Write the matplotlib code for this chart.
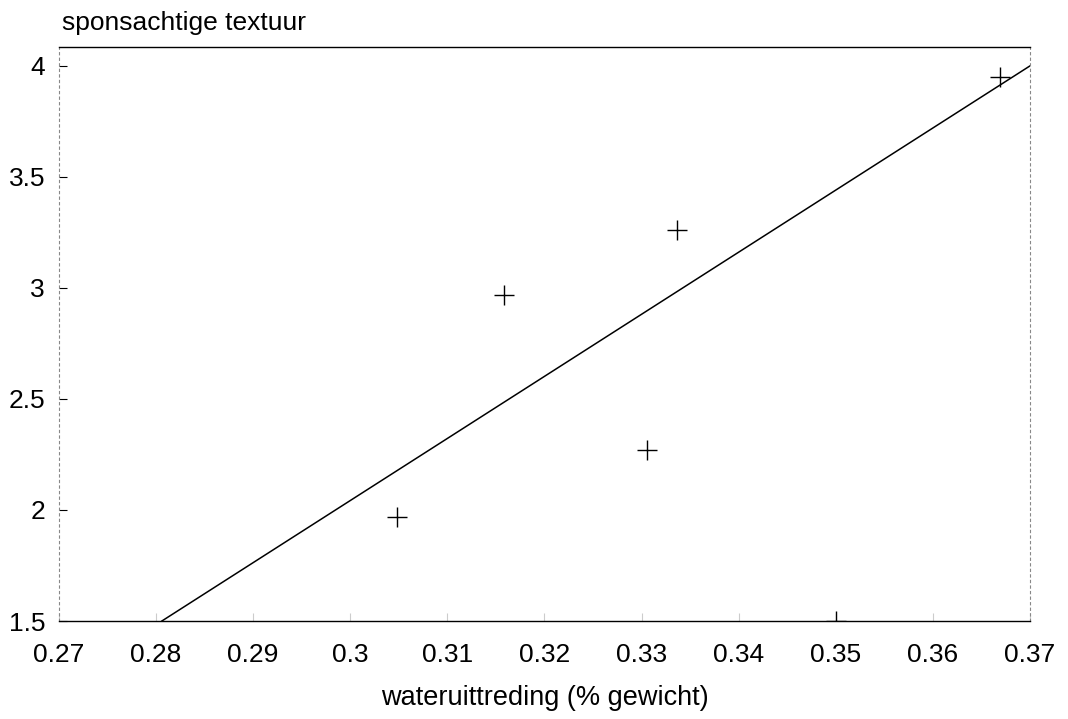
import matplotlib
matplotlib.use("Agg")
from matplotlib import pyplot as plt
import numpy as np

plt.rcParams['font.family'] = ['Liberation Sans', 'DejaVu Sans']

# meetpunten
water = [0.3048, 0.3158, 0.3306, 0.3337, 0.35, 0.3669]
spons = [1.97, 2.97, 2.27, 3.26, 1.50, 3.95]

# regressielijn
lijn_x = [0.2806, 0.37]
lijn_y = [1.5, 4.0]

x_ticks = [0.27, 0.28, 0.29, 0.30, 0.31, 0.32, 0.33, 0.34, 0.35, 0.36, 0.37]
x_labels = ['0.27', '0.28', '0.29', '0.3', '0.31', '0.32', '0.33', '0.34', '0.35', '0.36', '0.37']
y_ticks = [1.5, 2, 2.5, 3, 3.5, 4]
y_labels = ['1.5', '2', '2.5', '3', '3.5', '4']

fig = plt.figure(figsize=(10.68, 7.19), dpi=100)
ax = fig.add_axes([0.0552, 0.1363, 0.9092, 0.7983])

ax.plot(lijn_x, lijn_y, color='black', linewidth=1.1)
ax.plot(water, spons, linestyle='none', marker='+', markersize=14,
        markeredgewidth=1.0, color='black')

ax.set_xlim(0.27, 0.37)
ax.set_ylim(1.5, 4.085)
ax.set_xticks(x_ticks)
ax.set_xticklabels(x_labels)
ax.set_yticks(y_ticks)
ax.set_yticklabels(y_labels)
ax.tick_params(axis='both', direction='in', labelsize=19, length=6, width=0.8)
ax.tick_params(axis='x', pad=16, color='#cccccc')
ax.tick_params(axis='y', pad=10)

for s in ['top', 'bottom']:
    ax.spines[s].set_linewidth(1.0)
for s in ['left', 'right']:
    ax.spines[s].set_linewidth(0.8)
    ax.spines[s].set_linestyle((0, (2, 3)))
    ax.spines[s].set_color('#888888')

ax.set_xlabel('wateruittreding (% gewicht)', fontsize=19.5, labelpad=13)
fig.text(0.058, 0.968, 'sponsachtige textuur', fontsize=19, ha='left', va='center')

fig.savefig('out.png', dpi=100)
